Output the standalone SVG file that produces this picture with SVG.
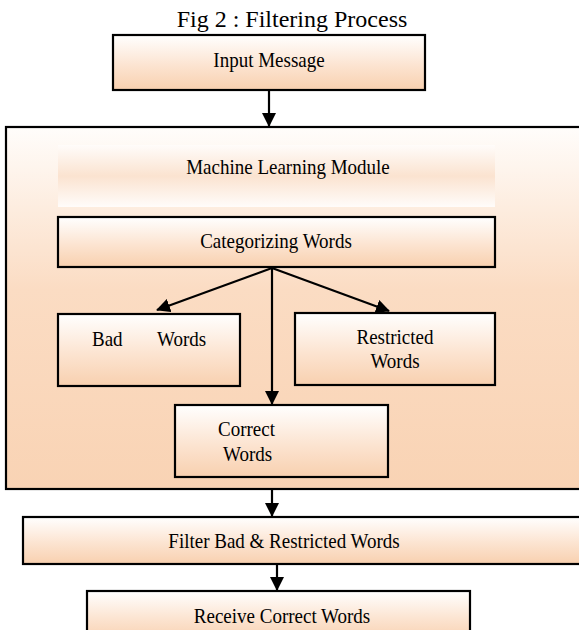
<svg xmlns="http://www.w3.org/2000/svg" width="579" height="630" viewBox="0 0 579 630">
<defs>
<linearGradient id="peach" x1="0" y1="0" x2="0" y2="1">
<stop offset="0" stop-color="#ffffff"/>
<stop offset="0.55" stop-color="#fce4d1"/>
<stop offset="1" stop-color="#f8d0af"/>
</linearGradient>
<linearGradient id="outer" x1="0" y1="0" x2="0" y2="1">
<stop offset="0" stop-color="#fffdfb"/>
<stop offset="0.45" stop-color="#fbdcc3"/>
<stop offset="1" stop-color="#f9d3b4"/>
</linearGradient>
<linearGradient id="band" x1="0" y1="0" x2="0" y2="1">
<stop offset="0" stop-color="#fffcfa"/>
<stop offset="0.5" stop-color="#fbe3d0"/>
<stop offset="1" stop-color="#fffcfa"/>
</linearGradient>
<marker id="ah" viewBox="0 0 14 14" refX="13" refY="7" markerWidth="14" markerHeight="14" markerUnits="userSpaceOnUse" orient="auto">
<path d="M0,0 L14,7 L0,14 Z" fill="#000"/>
</marker>
</defs>
<style>
.box{stroke:#000;stroke-width:2.2;fill:url(#peach)}
.t{font-family:"Liberation Serif","Times New Roman",serif;font-size:19px;fill:#000}
.c{stroke:#000;stroke-width:2.2;fill:none;marker-end:url(#ah)}
</style>
<rect width="579" height="630" fill="#fff"/>
<text class="t" x="292" y="27" text-anchor="middle" style="font-size:24px">Fig 2 : Filtering Process</text>
<g id="outer-module">
<rect x="6" y="127" width="590" height="362" fill="url(#outer)" stroke="#000" stroke-width="2.2"/>
</g>
<g id="input">
<rect class="box" x="113" y="35" width="312" height="55"/>
<text class="t" transform="translate(269,67) scale(1,1.13)" text-anchor="middle">Input Message</text>
</g>
<g id="ml-title">
<rect x="58" y="145" width="437" height="62" fill="url(#band)"/>
<text class="t" transform="translate(288,174) scale(1,1.13)" text-anchor="middle">Machine Learning Module</text>
</g>
<g id="categorizing">
<rect class="box" x="58" y="217" width="437" height="50"/>
<text class="t" transform="translate(276,248) scale(1,1.13)" text-anchor="middle">Categorizing Words</text>
</g>
<g id="bad">
<rect class="box" x="58" y="314" width="182" height="72"/>
<text class="t" transform="translate(92,346) scale(1,1.13)">Bad</text>
<text class="t" transform="translate(157,346) scale(1,1.13)">Words</text>
</g>
<g id="restricted">
<rect class="box" x="295" y="313" width="200" height="72"/>
<text class="t" transform="translate(395,344) scale(1,1.13)" text-anchor="middle">Restricted</text>
<text class="t" transform="translate(395,368) scale(1,1.13)" text-anchor="middle">Words</text>
</g>
<g id="correct">
<rect class="box" x="175" y="405" width="213" height="72"/>
<text class="t" transform="translate(218,436) scale(1,1.13)">Correct</text>
<text class="t" transform="translate(223,461) scale(1,1.13)">Words</text>
</g>
<g id="filter">
<rect class="box" x="23" y="517" width="580" height="47"/>
<text class="t" transform="translate(284,548) scale(1,1.13)" text-anchor="middle">Filter Bad &amp; Restricted Words</text>
</g>
<g id="receive">
<rect class="box" x="87" y="591" width="383" height="50"/>
<text class="t" transform="translate(282,623) scale(1,1.13)" text-anchor="middle">Receive Correct Words</text>
</g>
<g id="connectors">
<line class="c" x1="269" y1="91" x2="269" y2="126"/>
<line class="c" x1="272" y1="268" x2="157" y2="310"/>
<line class="c" x1="272" y1="268" x2="389" y2="311"/>
<line class="c" x1="272" y1="268" x2="272" y2="404"/>
<line class="c" x1="272" y1="490" x2="272" y2="516"/>
<line class="c" x1="277" y1="565" x2="277" y2="590"/>
</g>
</svg>
